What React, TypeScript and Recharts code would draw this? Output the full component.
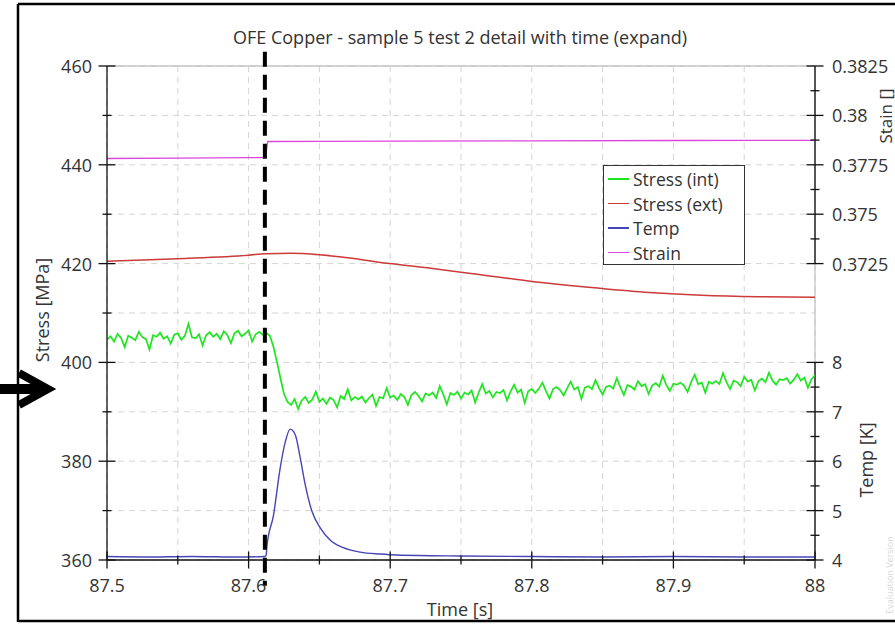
import React from 'react';
import { LineChart, Line, XAxis, YAxis, CartesianGrid, ReferenceLine } from 'recharts';

const FONT = '"Open Sans", "Noto Sans", sans-serif';
const GREEN = '#1ee61e';
const RED = '#cc3a3a';
const BLUE = '#4545b5';
const MAGENTA = '#dd44dd';

// ---- axis ticks ----
const timeTicks = [87.5, 87.55, 87.6, 87.65, 87.7, 87.75, 87.8, 87.85, 87.9, 87.95, 88];
const timeMajor = [87.5, 87.6, 87.7, 87.8, 87.9, 88];
const stressTicks = [360, 370, 380, 390, 400, 410, 420, 430, 440, 450, 460];
const stressMajor = [360, 380, 400, 420, 440, 460];
const strainMajor = [0.3725, 0.375, 0.3775, 0.38, 0.3825];
const strainMinor = [0.37375, 0.37625, 0.37875, 0.38125];
const tempMajor = [4, 5, 6, 7, 8];
const tempMinor = [4.5, 5.5, 6.5, 7.5];
const STRAIN_DOMAIN: [number, number] = [0.3575, 0.3825];
const TEMP_DOMAIN: [number, number] = [4, 14];
const MARKER_TIME = 87.6115;

// ---- Stress (int): sampled every 0.0025 s from 87.5 to 88 ----
const intStress = [
  404.6, 405.3, 404.2, 405.8, 404.9, 403.1, 405.4, 405.0, 404.5, 406.2,
  405.1, 404.7, 402.6, 405.5, 405.2, 406.0, 404.8, 405.3, 403.8, 405.6,
  405.9, 404.6, 405.4, 407.8, 405.1, 404.9, 405.7, 403.4, 405.5, 406.1,
  405.2, 405.8, 404.7, 406.3, 405.5, 403.9, 405.9, 406.4, 405.3, 405.8,
  406.5, 404.2, 405.7, 406.2, 405.6, 406.0,
  405.4, 403.2, 400.1, 396.8, 393.6, 392.0,
  391.4, 392.6, 390.6, 392.3, 393.0, 391.8, 392.5, 394.1, 392.0, 392.7,
  391.6, 392.9, 392.4, 390.9, 393.2, 392.6, 394.6, 392.3, 393.0, 392.5,
  393.1, 391.9, 392.8, 393.5, 391.2, 393.0, 392.7, 394.8, 392.9, 393.3,
  392.4, 393.6, 393.0, 391.4, 393.4, 394.0, 393.2, 392.1, 393.7, 393.3,
  393.9, 392.8, 395.2, 393.5, 391.5, 393.8, 393.4, 394.1, 392.7, 393.9,
  393.5, 394.3, 391.9, 393.9, 395.6, 393.7, 394.2, 392.9, 394.0, 393.8,
  394.4, 392.3, 394.1, 395.5, 393.9, 394.5, 391.8, 394.2, 394.6, 393.8,
  394.7, 395.9, 394.2, 392.7, 394.6, 395.0, 394.4, 393.3, 394.8, 396.1,
  394.5, 395.0, 392.6, 394.9, 395.2, 394.6, 396.4, 394.8, 393.5, 395.1,
  395.3, 394.7, 396.8, 395.0, 393.4, 395.4, 395.1, 394.5, 396.2, 395.2,
  395.6, 393.6, 395.3, 395.8, 395.1, 397.3, 395.4, 394.2, 395.7, 395.5,
  395.9, 395.3, 394.0, 396.0, 397.5, 395.6, 395.9, 393.9, 396.1, 395.7,
  396.2, 395.6, 397.8, 396.0, 394.6, 396.3, 396.0, 395.2, 397.1, 396.1,
  396.5, 394.3, 396.2, 396.7, 396.0, 397.9, 396.3, 395.5, 396.6, 396.4,
  396.8, 395.7, 396.5, 397.6, 396.3, 396.9, 394.9, 396.6, 397.4,
];
const INT_START = 87.5;
const INT_STEP = 0.0025;

// ---- Stress (ext) ----
const extTime = [87.5, 87.55, 87.6, 87.612, 87.63, 87.65, 87.67, 87.7, 87.73, 87.76, 87.8, 87.84, 87.88, 87.92, 87.96, 88];
const extStress = [420.5, 421.0, 421.7, 422.0, 422.1, 421.8, 421.2, 420.0, 419.0, 417.9, 416.4, 415.2, 414.2, 413.6, 413.3, 413.2];

// ---- Temp ----
const tempTime = [87.5, 87.53, 87.56, 87.59, 87.6115, 87.6124, 87.6129, 87.6176, 87.6223, 87.6259, 87.6294, 87.633, 87.6365, 87.64, 87.6448, 87.6506, 87.6577, 87.6669, 87.6789, 87.6931, 87.7049, 87.75, 87.8, 87.85, 87.9, 87.95, 88];
const tempK = [4.07, 4.06, 4.07, 4.06, 4.07, 4.1, 4.27, 4.91, 5.86, 6.39, 6.65, 6.53, 6.06, 5.52, 4.98, 4.65, 4.4, 4.25, 4.16, 4.12, 4.1, 4.08, 4.07, 4.06, 4.07, 4.06, 4.06];

// ---- Strain ----
const strainTime = [87.5, 87.55, 87.6, 87.6118, 87.6135, 87.65, 87.7, 87.8, 87.9, 88];
const strainVal = [0.37782, 0.37784, 0.37786, 0.37787, 0.37868, 0.37869, 0.3787, 0.37871, 0.37873, 0.37874];

const intData = intStress.map((v, i) => ({ t: INT_START + i * INT_STEP, v }));
const extData = extTime.map((t, i) => ({ t, v: extStress[i] }));
const tempData = tempTime.map((t, i) => ({ t, v: tempK[i] }));
const strainData = strainTime.map((t, i) => ({ t, v: strainVal[i] }));

const legendItems = [
  { name: 'Stress (int)', color: GREEN },
  { name: 'Stress (ext)', color: RED },
  { name: 'Temp', color: BLUE },
  { name: 'Strain', color: MAGENTA },
];

// temp ticks expressed in strain-axis units (both share the right axis line)
const tempToStrain = (k: number) =>
  STRAIN_DOMAIN[0] + ((k - TEMP_DOMAIN[0]) / (TEMP_DOMAIN[1] - TEMP_DOMAIN[0])) * (STRAIN_DOMAIN[1] - STRAIN_DOMAIN[0]);
const strainToTemp = (s: number) =>
  TEMP_DOMAIN[0] + ((s - STRAIN_DOMAIN[0]) / (STRAIN_DOMAIN[1] - STRAIN_DOMAIN[0])) * (TEMP_DOMAIN[1] - TEMP_DOMAIN[0]);
const rightTicks = [
  ...strainMajor,
  ...strainMinor,
  ...tempMajor.map(tempToStrain),
  ...tempMinor.map(tempToStrain),
];

const near = (a: number, list: number[]) => list.some((b) => Math.abs(a - b) < 1e-7);

const TICK_COLOR = '#111';
const LABEL_COLOR = '#333';
const FS = 18;

const LeftTick = (props: any) => {
  const { x, y, payload } = props;
  const major = near(payload.value, stressMajor);
  const len = major ? 8.5 : 4.5;
  return (
    <g>
      <line x1={x - len} x2={x + len} y1={y} y2={y} stroke={TICK_COLOR} strokeWidth={1.3} />
      {major && (
        <text x={x - 15} y={y} textAnchor="end" dominantBaseline="central" fontSize={FS} fill={LABEL_COLOR} fontFamily={FONT}>
          {payload.value}
        </text>
      )}
    </g>
  );
};

const RightTick = (props: any) => {
  const { x, y, payload } = props;
  const v = payload.value;
  const isTemp = v < 0.368;
  let major = false;
  let label = '';
  if (isTemp) {
    const k = Math.round(strainToTemp(v) * 100) / 100;
    major = near(k, tempMajor);
    label = String(k);
  } else {
    major = near(v, strainMajor);
    label = String(v);
  }
  const len = major ? 8.5 : 4.5;
  return (
    <g>
      <line x1={x - len} x2={x + len} y1={y} y2={y} stroke={TICK_COLOR} strokeWidth={1.3} />
      {major && (
        <text x={x + 17} y={y} textAnchor="start" dominantBaseline="central" fontSize={FS} fill={LABEL_COLOR} fontFamily={FONT}>
          {label}
        </text>
      )}
    </g>
  );
};

const BottomTick = (props: any) => {
  const { x, y, payload } = props;
  const major = near(payload.value, timeMajor);
  const len = major ? 8.5 : 4.5;
  return (
    <g>
      <line x1={x} x2={x} y1={y - len} y2={y + len} stroke={TICK_COLOR} strokeWidth={1.3} />
      {major && (
        <text x={x} y={y + 25} textAnchor="middle" dominantBaseline="central" fontSize={FS} fill={LABEL_COLOR} fontFamily={FONT}>
          {payload.value}
        </text>
      )}
    </g>
  );
};

export default function App() {
  return (
    <div style={{ position: 'absolute', left: 0, top: 0, width: 895, height: 624, background: '#fff', overflow: 'hidden', fontFamily: FONT }}>
      <LineChart width={895} height={624} margin={{ top: 66, right: 0, bottom: 0, left: 0 }}>
        <CartesianGrid yAxisId="stress" stroke="#d4d4d4" strokeDasharray="6 5" />
        <XAxis
          type="number"
          dataKey="t"
          domain={[87.5, 88]}
          ticks={timeTicks}
          interval={0}
          height={64}
          allowDataOverflow
          tickSize={0}
          tickMargin={0}
          tickLine={false}
          axisLine={{ stroke: TICK_COLOR, strokeWidth: 1.3 }}
          tick={<BottomTick />}
        />
        <YAxis
          yAxisId="stress"
          orientation="left"
          type="number"
          domain={[360, 460]}
          ticks={stressTicks}
          interval={0}
          width={107}
          allowDataOverflow
          tickSize={0}
          tickMargin={0}
          tickLine={false}
          axisLine={{ stroke: TICK_COLOR, strokeWidth: 1.3 }}
          tick={<LeftTick />}
        />
        <YAxis
          yAxisId="strain"
          orientation="right"
          type="number"
          domain={STRAIN_DOMAIN}
          ticks={rightTicks}
          interval={0}
          width={80}
          allowDataOverflow
          tickSize={0}
          tickMargin={0}
          tickLine={false}
          axisLine={false}
          tick={<RightTick />}
        />
        <YAxis yAxisId="temp" orientation="right" type="number" domain={TEMP_DOMAIN} hide allowDataOverflow />

        <ReferenceLine yAxisId="stress" y={460} stroke="#c4c4c4" strokeWidth={1.3} />
        <ReferenceLine yAxisId="stress" x={88} stroke="#c4c4c4" strokeWidth={1.3} />
        <ReferenceLine
          yAxisId="strain"
          segment={[{ x: 88, y: 0.3725 }, { x: 88, y: 0.3825 }]}
          stroke={TICK_COLOR}
          strokeWidth={1.3}
          ifOverflow="visible"
        />
        <ReferenceLine
          yAxisId="temp"
          segment={[{ x: 88, y: 4 }, { x: 88, y: 8 }]}
          stroke={TICK_COLOR}
          strokeWidth={1.3}
          ifOverflow="visible"
        />

        <Line yAxisId="strain" data={strainData} dataKey="v" name="Strain" stroke={MAGENTA} strokeWidth={1.3} dot={false} type="linear" isAnimationActive={false} />
        <Line yAxisId="stress" data={extData} dataKey="v" name="Stress (ext)" stroke={RED} strokeWidth={1.5} dot={false} type="monotone" isAnimationActive={false} />
        <Line yAxisId="temp" data={tempData} dataKey="v" name="Temp" stroke={BLUE} strokeWidth={1.4} dot={false} type="monotone" isAnimationActive={false} />
        <Line yAxisId="stress" data={intData} dataKey="v" name="Stress (int)" stroke={GREEN} strokeWidth={1.7} dot={false} type="linear" isAnimationActive={false} />

        <ReferenceLine
          yAxisId="stress"
          segment={[{ x: MARKER_TIME, y: 462.9 }, { x: MARKER_TIME, y: 354.8 }]}
          stroke="#000"
          strokeWidth={4}
          strokeDasharray="15 8"
          ifOverflow="visible"
        />
      </LineChart>

      {/* Legend */}
      <div
        style={{
          position: 'absolute',
          left: 603,
          top: 165,
          width: 140,
          height: 98,
          border: '1.5px solid #333',
          background: '#fff',
          boxSizing: 'content-box',
        }}
      >
        {legendItems.map((it, i) => (
          <div key={it.name} style={{ position: 'absolute', left: 0, top: 1 + i * 24.5, height: 24, display: 'flex', alignItems: 'center' }}>
            <div style={{ width: 21, height: 1.5, background: it.color, marginLeft: 4, marginRight: 4 }} />
            <span style={{ fontSize: 17.5, color: LABEL_COLOR, fontFamily: FONT, whiteSpace: 'nowrap' }}>{it.name}</span>
          </div>
        ))}
      </div>

      {/* Frame, arrow, titles */}
      <svg width={895} height={624} style={{ position: 'absolute', left: 0, top: 0, pointerEvents: 'none' }}>
        <line x1={18} y1={4} x2={895} y2={4} stroke="#000" strokeWidth={2.5} />
        <line x1={18} y1={4} x2={18} y2={622} stroke="#000" strokeWidth={2.5} />
        <line x1={18} y1={621} x2={895} y2={621} stroke="#000" strokeWidth={2.5} />
        <line x1={0} y1={389} x2={42} y2={389} stroke="#000" strokeWidth={10} />
        <polyline points="19,373 48,389 19,405" fill="none" stroke="#000" strokeWidth={8} strokeLinejoin="miter" />
        <text x={460} y={37} textAnchor="middle" dominantBaseline="central" fontSize={18} fill={LABEL_COLOR} fontFamily={FONT}>
          OFE Copper - sample 5 test 2 detail with time (expand)
        </text>
        <text x={460} y={609} textAnchor="middle" dominantBaseline="central" fontSize={18} fill={LABEL_COLOR} fontFamily={FONT}>
          Time [s]
        </text>
        <text x={42} y={310} textAnchor="middle" dominantBaseline="central" fontSize={18} fill={LABEL_COLOR} fontFamily={FONT} transform="rotate(-90 42 310)">
          Stress [MPa]
        </text>
        <text x={866} y={460} textAnchor="middle" dominantBaseline="central" fontSize={18} fill={LABEL_COLOR} fontFamily={FONT} transform="rotate(-90 866 460)">
          Temp [K]
        </text>
        <text x={885} y={116} textAnchor="middle" dominantBaseline="central" fontSize={17} fill={LABEL_COLOR} fontFamily={FONT} transform="rotate(-90 885 116)">
          Stain []
        </text>
        <text x={889} y={575} textAnchor="middle" dominantBaseline="central" fontSize={9} fill="#d8d8d8" fontFamily={FONT} transform="rotate(-90 889 575)">
          Evaluation Version
        </text>
      </svg>
    </div>
  );
}
